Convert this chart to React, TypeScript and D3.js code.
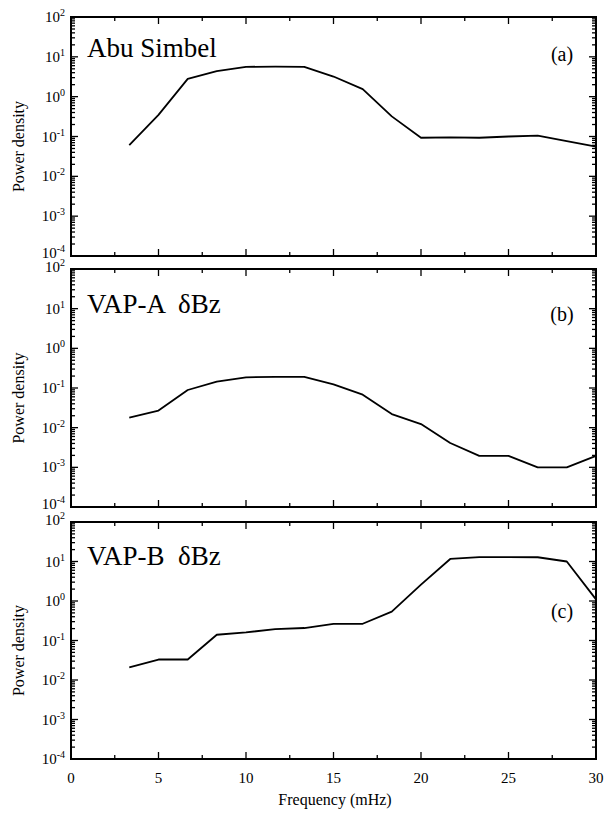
import React from "react";
import * as d3 from "d3";

const freq = [3.33, 5, 6.67, 8.33, 10, 11.67, 13.33, 15, 16.67, 18.33, 20, 21.67, 23.33, 25, 26.67, 28.33, 30];
const abuSimbel = [0.061, 0.35, 2.8, 4.4, 5.6, 5.7, 5.6, 3.2, 1.55, 0.32, 0.093, 0.095, 0.093, 0.1, 0.105, 0.077, 0.056];
const vapA = [0.018, 0.027, 0.089, 0.145, 0.186, 0.19, 0.19, 0.124, 0.068, 0.022, 0.0123, 0.0041, 0.00195, 0.00195, 0.001, 0.001, 0.00195];
const vapB = [0.021, 0.033, 0.033, 0.14, 0.16, 0.195, 0.207, 0.265, 0.265, 0.54, 2.6, 11.6, 12.9, 12.9, 12.8, 10, 1.1];
const titles = ["Abu Simbel", "VAP-A  \u03b4Bz", "VAP-B  \u03b4Bz"];
const tags = ["(a)", "(b)", "(c)"];
const series = [abuSimbel, vapA, vapB];
const xTickValues = [0, 5, 10, 15, 20, 25, 30];
const yDomain = [1e-4, 1e2];

const FONT = "'Liberation Serif', 'Times New Roman', serif";
const LEFT = 71;
const RIGHT = 596;
const panels = [
  { top: 17, bottom: 256, titleDy: 40, tagDy: 44 },
  { top: 269, bottom: 507, titleDy: 44, tagDy: 52 },
  { top: 522, bottom: 759, titleDy: 43, tagDy: 96 },
];

function Panel({ idx }: { idx: number }) {
  const p = panels[idx];
  const x = d3.scaleLinear().domain([0, 30]).range([LEFT, RIGHT]);
  const y = d3.scaleLog().domain(yDomain).range([p.bottom, p.top]);
  const data = freq.map((f, i) => [f, series[idx][i]] as [number, number]);
  const line = d3
    .line<[number, number]>()
    .x((d) => x(d[0]))
    .y((d) => y(d[1]));
  const yTicks = y.ticks();
  const isMajor = (v: number) => Math.abs(Math.log10(v) - Math.round(Math.log10(v))) < 1e-6;
  const xMinor = d3.range(2.5, 30, 5);
  const last = idx === panels.length - 1;
  return (
    <g>
      {/* y ticks */}
      {yTicks.map((v, i) => {
        const major = isMajor(v);
        const len = major ? 7 : 4;
        const yy = y(v);
        return (
          <g key={"yt" + i}>
            <line x1={LEFT} x2={LEFT + len} y1={yy} y2={yy} stroke="#000" strokeWidth={1.3} />
            <line x1={RIGHT} x2={RIGHT - len} y1={yy} y2={yy} stroke="#000" strokeWidth={1.3} />
          </g>
        );
      })}
      {/* y tick labels */}
      {yTicks.filter(isMajor).map((v, i) => {
        const e = Math.round(Math.log10(v));
        const yy = y(v);
        let dy = 5;
        if (e === -4 && !last) dy = 2;
        if (e === 2 && idx > 0) dy = 3;
        return (
          <text key={"yl" + i} x={65} y={yy + dy} textAnchor="end" fontFamily={FONT} fontSize={15} fill="#000">
            <tspan>10</tspan>
            <tspan dy={-6} fontSize={10}>{String(e)}</tspan>
          </text>
        );
      })}
      {/* x ticks */}
      {xTickValues.map((v, i) => (
        <g key={"xt" + i}>
          <line x1={x(v)} x2={x(v)} y1={p.bottom} y2={p.bottom - 7} stroke="#000" strokeWidth={1.3} />
          <line x1={x(v)} x2={x(v)} y1={p.top} y2={p.top + 7} stroke="#000" strokeWidth={1.3} />
        </g>
      ))}
      {xMinor.map((v, i) => (
        <g key={"xm" + i}>
          <line x1={x(v)} x2={x(v)} y1={p.bottom} y2={p.bottom - 4} stroke="#000" strokeWidth={1.3} />
          <line x1={x(v)} x2={x(v)} y1={p.top} y2={p.top + 4} stroke="#000" strokeWidth={1.3} />
        </g>
      ))}
      {last &&
        xTickValues.map((v, i) => (
          <text key={"xl" + i} x={x(v)} y={p.bottom + 24} textAnchor="middle" fontFamily={FONT} fontSize={15} fill="#000">
            {String(v)}
          </text>
        ))}
      {/* frame */}
      <rect x={LEFT} y={p.top} width={RIGHT - LEFT} height={p.bottom - p.top} fill="none" stroke="#000" strokeWidth={2} />
      {/* data line */}
      <path d={line(data) || ""} fill="none" stroke="#000" strokeWidth={1.8} strokeLinejoin="round" />
      {/* title */}
      <text x={87} y={p.top + p.titleDy} fontFamily={FONT} fontSize={27} fill="#000" style={{ whiteSpace: "pre" }}>
        {titles[idx]}
      </text>
      <text x={562} y={p.top + p.tagDy} textAnchor="middle" fontFamily={FONT} fontSize={20} fill="#000">
        {tags[idx]}
      </text>
      {/* y label */}
      <text
        transform={`translate(24, ${(p.top + p.bottom) / 2 + 10}) rotate(-90)`}
        textAnchor="middle"
        fontFamily={FONT}
        fontSize={16}
        fill="#000"
      >
        Power density
      </text>
    </g>
  );
}

export default function App() {
  return (
    <svg
      width={604}
      height={821}
      viewBox="0 0 604 821"
      style={{ position: "absolute", left: 0, top: 0, background: "#fff" }}
    >
      <rect x={0} y={0} width={604} height={821} fill="#fff" />
      {panels.map((_, i) => (
        <Panel key={i} idx={i} />
      ))}
      <text x={335} y={805} textAnchor="middle" fontFamily={FONT} fontSize={16} fill="#000">
        Frequency (mHz)
      </text>
    </svg>
  );
}
